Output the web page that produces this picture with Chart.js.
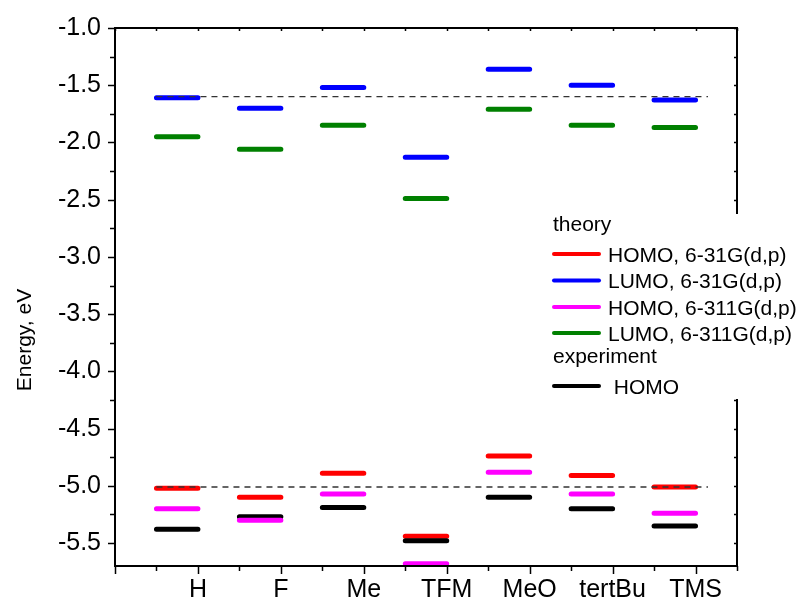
<!DOCTYPE html>
<html><head><meta charset="utf-8">
<script src="https://cdn.jsdelivr.net/npm/chart.js@4/dist/chart.umd.min.js"></script>
<style>html,body{margin:0;padding:0;background:#fff;overflow:hidden}canvas{display:block}</style>
</head><body>
<canvas id="c" width="808" height="602"></canvas>
<script>
// ---- data ----
const categories = ['H','F','Me','TFM','MeO','tertBu','TMS'];
const homo631  = [-5.02,-5.10,-4.89,-5.44,-4.74,-4.91,-5.01];
const lumo631  = [-1.61,-1.70,-1.52,-2.13,-1.36,-1.50,-1.63];
const homo6311 = [-5.20,-5.30,-5.07,-5.68,-4.88,-5.07,-5.24];
const lumo6311 = [-1.95,-2.06,-1.85,-2.49,-1.71,-1.85,-1.87];
const homoExp  = [-5.38,-5.27,-5.19,-5.48,-5.10,-5.20,-5.35];
const refLevels = [-1.60,-5.01];
const refSpan = [0.5, 7.15];
const yTickValues = [-5.5,-5.0,-4.5,-4.0,-3.5,-3.0,-2.5,-2.0,-1.5,-1.0];
const seriesLabels = ['HOMO, 6-31G(d,p)','LUMO, 6-31G(d,p)','HOMO, 6-311G(d,p)','LUMO, 6-311G(d,p)',' HOMO'];
const legendHeaders = ['theory','experiment'];
const yTitle = 'Energy, eV';

const FONT = '"Liberation Sans", Arial, Helvetica, sans-serif';

function levels(vals){
  const pts = [];
  vals.forEach((v,i)=>{ pts.push({x:i+0.5,y:v},{x:i+1,y:v},{x:i+1.25,y:null}); });
  return pts;
}
function refs(vals){
  const pts = [];
  vals.forEach(v=>{ pts.push({x:refSpan[0],y:v},{x:refSpan[1],y:v},{x:refSpan[1]+0.1,y:null}); });
  return pts;
}
function lvl(label,data,color,order){
  return {label, data:levels(data), borderColor:color, backgroundColor:color, borderWidth:5,
    borderCapStyle:'round', pointRadius:0, fill:false, tension:0, spanGaps:false, order};
}
const datasets = [
  lvl(seriesLabels[0], homo631, '#ff0000', 3),
  lvl(seriesLabels[1], lumo631, '#0000ff', 5),
  lvl(seriesLabels[2], homo6311, '#ff00ff', 1),
  lvl(seriesLabels[3], lumo6311, '#008000', 4),
  lvl(seriesLabels[4], homoExp, '#000000', 2),
  {label:'ref', data:refs(refLevels), borderColor:'#333', borderWidth:1.3, borderDash:[6,5],
   pointRadius:0, fill:false, spanGaps:false, order:0}
];

const framePlugin = {
  id:'frame',
  afterDraw(chart){
    const {ctx, chartArea:a, scales:{x,y}} = chart;
    ctx.save();
    ctx.strokeStyle = '#000';
    ctx.lineWidth = 2;
    ctx.strokeRect(a.left, a.top, a.right-a.left, a.bottom-a.top);
    ctx.lineWidth = 1.5;
    ctx.beginPath();
    for (let v=-5.5; v<=-1.0+1e-9; v+=0.25){
      const yy = Math.round(y.getPixelForValue(v))+0.5;
      const major = Math.abs(v*2-Math.round(v*2))<1e-6;
      ctx.moveTo(a.left, yy); ctx.lineTo(a.left-(major?7:5), yy);
      ctx.moveTo(a.right, yy); ctx.lineTo(a.right-3, yy);
    }
    for (let v=0; v<=7.5+1e-9; v+=0.5){
      const xx = Math.round(x.getPixelForValue(v))+0.5;
      const major = Math.abs(v-Math.round(v))<1e-6;
      ctx.moveTo(xx, a.bottom); ctx.lineTo(xx, a.bottom+(major?8:5));
      ctx.moveTo(xx, a.top); ctx.lineTo(xx, a.top+3);
    }
    ctx.stroke();
    // y title
    ctx.save();
    ctx.translate(31, 340);
    ctx.rotate(-Math.PI/2);
    ctx.fillStyle = '#000';
    ctx.font = '21px '+FONT;
    ctx.textAlign = 'center';
    ctx.textBaseline = 'alphabetic';
    ctx.fillText(yTitle, 0, 0);
    ctx.restore();
    // legend
    ctx.fillStyle = '#fff';
    ctx.fillRect(540, 214, 268, 185);
    ctx.fillStyle = '#000';
    ctx.font = '21px '+FONT;
    ctx.textAlign = 'left';
    ctx.textBaseline = 'alphabetic';
    ctx.fillText(legendHeaders[0], 553, 231);
    const rows = [254, 280.5, 307, 333];
    [0,1,2,3].forEach((di,k)=>{
      const ds = chart.data.datasets[di];
      ctx.strokeStyle = ds.borderColor; ctx.lineWidth = 4; ctx.lineCap = 'round';
      ctx.beginPath(); ctx.moveTo(554, rows[k]); ctx.lineTo(599, rows[k]); ctx.stroke();
      ctx.fillStyle = '#000';
      ctx.fillText(ds.label, 608, rows[k]+7.5);
    });
    ctx.fillText(legendHeaders[1], 553, 363);
    const ds = chart.data.datasets[4];
    ctx.strokeStyle = ds.borderColor; ctx.lineWidth = 4; ctx.lineCap = 'round';
    ctx.beginPath(); ctx.moveTo(554, 386); ctx.lineTo(599, 386); ctx.stroke();
    ctx.fillText(ds.label, 608, 393.5);
    ctx.restore();
  }
};

new Chart(document.getElementById('c'), {
  type:'line',
  data:{datasets},
  options:{
    responsive:false, animation:false, events:[],
    layout:{padding:{left:0, top:28, right:71, bottom:0}},
    plugins:{legend:{display:false}, tooltip:{enabled:false}},
    scales:{
      x:{type:'linear', min:0, max:7.5,
        afterBuildTicks:s=>{ s.ticks = categories.map((c,i)=>({value:i+1})); },
        afterFit:s=>{ s.height = 36; },
        grid:{display:false, drawTicks:true, tickLength:8}, border:{display:false},
        ticks:{autoSkip:false, maxRotation:0, minRotation:0, padding:1, color:'#000',
          font:{family:FONT, size:25}, callback:v=>categories[Math.round(v)-1] ?? ''}},
      y:{type:'linear', min:-5.7, max:-1.0,
        afterBuildTicks:s=>{ s.ticks = yTickValues.map(v=>({value:v})); },
        afterFit:s=>{ s.width = 115; },
        grid:{display:false, drawTicks:true, tickLength:7}, border:{display:false},
        ticks:{padding:7, color:'#000', font:{family:FONT, size:25}, callback:v=>Number(v).toFixed(1)}}
    }
  },
  plugins:[framePlugin]
});
</script>
</body></html>
